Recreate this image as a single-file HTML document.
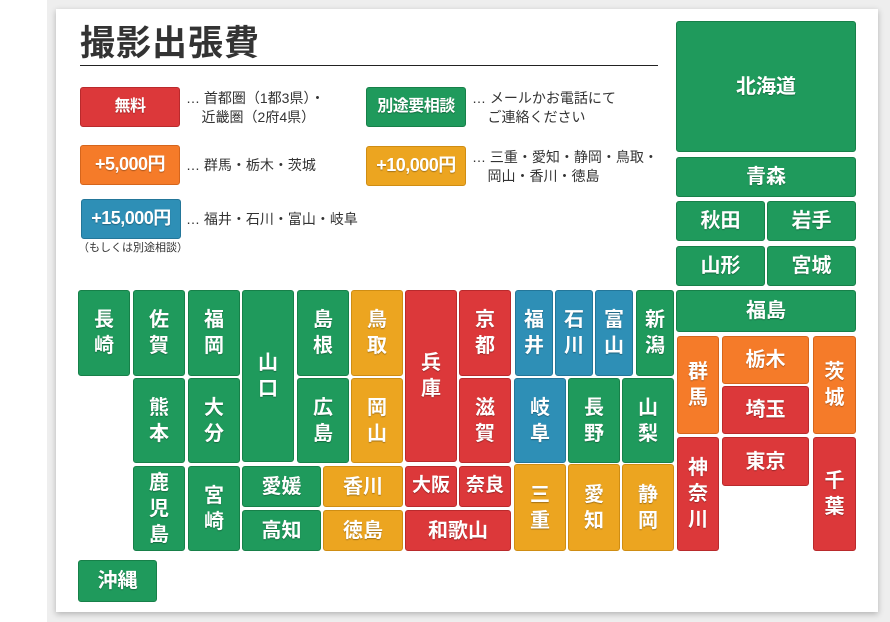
<!DOCTYPE html>
<html><head><meta charset="utf-8"><style>
html,body{margin:0;padding:0;}
body{width:890px;height:622px;position:relative;background:#eeeeee;overflow:hidden;font-family:"Liberation Sans","Noto Sans CJK JP",sans-serif;}
.left{position:absolute;left:0;top:0;width:47px;height:622px;background:#fff;}
.card{position:absolute;left:56px;top:9px;width:822px;height:603px;background:#fff;box-shadow:0 2px 6px rgba(0,0,0,0.25);}
.t{position:absolute;box-sizing:border-box;border-radius:3px;color:#fff;font-weight:bold;font-size:20px;display:flex;align-items:center;justify-content:center;text-align:center;line-height:1.3;text-shadow:0 1px 1px rgba(0,0,0,0.3);}
.g{background:#1f9a5c;border:1px solid #178049;}
.r{background:#dc383a;border:1px solid #b92a2c;}
.o{background:#f57b29;border:1px solid #d5651c;}
.y{background:#eca520;border:1px solid #cf8d13;}
.b{background:#2e8fb6;border:1px solid #237699;}
.btn{font-size:18px;letter-spacing:-0.5px;}
.d{position:absolute;font-size:14px;color:#333;line-height:19px;font-family:"Liberation Sans","Noto Sans CJK JP",sans-serif;}
</style></head><body>
<div class="left"></div>
<div class="card"></div>
<div style="position:absolute;left:80px;top:15px;font-size:35px;font-weight:bold;color:#333;letter-spacing:1px;">撮影出張費</div>
<div style="position:absolute;left:80px;top:65px;width:578px;height:1px;background:#222;"></div>

<div class="t r btn" style="left:80px;top:87px;width:100px;height:40px;font-size:16px;">無料</div>
<div class="d" style="left:186px;top:89px;">… 首都圏（1都3県）・<br>&nbsp;&nbsp;&nbsp;&nbsp;近畿圏（2府4県）</div>
<div class="t g btn" style="left:366px;top:87px;width:100px;height:40px;font-size:16px;">別途要相談</div>
<div class="d" style="left:472px;top:89px;">… メールかお電話にて<br>&nbsp;&nbsp;&nbsp;&nbsp;ご連絡ください</div>
<div class="t o btn" style="left:80px;top:145px;width:100px;height:40px;">+5,000円</div>
<div class="d" style="left:186px;top:156px;">… 群馬・栃木・茨城</div>
<div class="t y btn" style="left:366px;top:146px;width:100px;height:40px;">+10,000円</div>
<div class="d" style="left:472px;top:148px;">… 三重・愛知・静岡・鳥取・<br>&nbsp;&nbsp;&nbsp;&nbsp;岡山・香川・徳島</div>
<div class="t b btn" style="left:81px;top:199px;width:100px;height:40px;">+15,000円</div>
<div class="d" style="left:186px;top:210px;">… 福井・石川・富山・岐阜</div>
<div class="d" style="left:78px;top:239px;font-size:11px;">（もしくは別途相談）</div>

<div class="t g" style="left:676px;top:21px;width:180px;height:131px;">北海道</div>
<div class="t g" style="left:676px;top:157px;width:180px;height:40px;">青森</div>
<div class="t g" style="left:676px;top:201px;width:89px;height:40px;">秋田</div>
<div class="t g" style="left:767px;top:201px;width:89px;height:40px;">岩手</div>
<div class="t g" style="left:676px;top:246px;width:89px;height:40px;">山形</div>
<div class="t g" style="left:767px;top:246px;width:89px;height:40px;">宮城</div>
<div class="t g" style="left:676px;top:290px;width:180px;height:42px;">福島</div>
<div class="t o" style="left:677px;top:336px;width:42px;height:98px;">群<br>馬</div>
<div class="t o" style="left:722px;top:336px;width:87px;height:48px;">栃木</div>
<div class="t r" style="left:722px;top:386px;width:87px;height:48px;">埼玉</div>
<div class="t o" style="left:813px;top:336px;width:43px;height:98px;">茨<br>城</div>
<div class="t r" style="left:677px;top:437px;width:42px;height:114px;">神<br>奈<br>川</div>
<div class="t r" style="left:722px;top:437px;width:87px;height:49px;">東京</div>
<div class="t r" style="left:813px;top:437px;width:43px;height:114px;">千<br>葉</div>

<div class="t g" style="left:78px;top:290px;width:52px;height:86px;">長<br>崎</div>
<div class="t g" style="left:133px;top:290px;width:52px;height:86px;">佐<br>賀</div>
<div class="t g" style="left:188px;top:290px;width:52px;height:86px;">福<br>岡</div>
<div class="t g" style="left:242px;top:290px;width:52px;height:172px;">山<br>口</div>
<div class="t g" style="left:297px;top:290px;width:52px;height:86px;">島<br>根</div>
<div class="t y" style="left:351px;top:290px;width:52px;height:86px;">鳥<br>取</div>
<div class="t r" style="left:405px;top:290px;width:52px;height:172px;">兵<br>庫</div>
<div class="t r" style="left:459px;top:290px;width:52px;height:86px;">京<br>都</div>
<div class="t b" style="left:515px;top:290px;width:38px;height:86px;">福<br>井</div>
<div class="t b" style="left:555px;top:290px;width:38px;height:86px;">石<br>川</div>
<div class="t b" style="left:595px;top:290px;width:38px;height:86px;">富<br>山</div>
<div class="t g" style="left:636px;top:290px;width:38px;height:86px;">新<br>潟</div>

<div class="t g" style="left:133px;top:378px;width:52px;height:85px;">熊<br>本</div>
<div class="t g" style="left:188px;top:378px;width:52px;height:85px;">大<br>分</div>
<div class="t g" style="left:297px;top:378px;width:52px;height:85px;">広<br>島</div>
<div class="t y" style="left:351px;top:378px;width:52px;height:85px;">岡<br>山</div>
<div class="t r" style="left:459px;top:378px;width:52px;height:85px;">滋<br>賀</div>
<div class="t b" style="left:514px;top:378px;width:52px;height:85px;">岐<br>阜</div>
<div class="t g" style="left:568px;top:378px;width:52px;height:85px;">長<br>野</div>
<div class="t g" style="left:622px;top:378px;width:52px;height:85px;">山<br>梨</div>

<div class="t g" style="left:133px;top:466px;width:52px;height:85px;">鹿<br>児<br>島</div>
<div class="t g" style="left:188px;top:466px;width:52px;height:85px;">宮<br>崎</div>
<div class="t g" style="left:242px;top:466px;width:79px;height:41px;">愛媛</div>
<div class="t y" style="left:323px;top:466px;width:80px;height:41px;">香川</div>
<div class="t r" style="left:405px;top:466px;width:52px;height:41px;font-size:19px;">大阪</div>
<div class="t r" style="left:459px;top:466px;width:52px;height:41px;font-size:19px;">奈良</div>
<div class="t g" style="left:242px;top:510px;width:79px;height:41px;">高知</div>
<div class="t y" style="left:323px;top:510px;width:80px;height:41px;">徳島</div>
<div class="t r" style="left:405px;top:510px;width:106px;height:41px;">和歌山</div>
<div class="t y" style="left:514px;top:464px;width:52px;height:87px;">三<br>重</div>
<div class="t y" style="left:568px;top:464px;width:52px;height:87px;">愛<br>知</div>
<div class="t y" style="left:622px;top:464px;width:52px;height:87px;">静<br>岡</div>

<div class="t g" style="left:78px;top:560px;width:79px;height:42px;">沖縄</div>
</body></html>
